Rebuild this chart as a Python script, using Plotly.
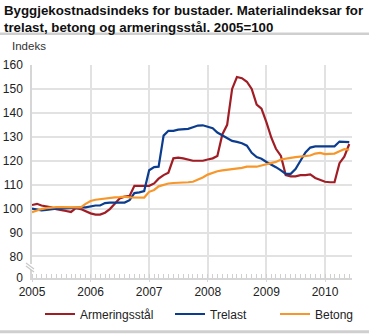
import plotly.graph_objects as go

# ---- data (monthly, Jan 2005 - Jun 2010) ----
months = [f"{y}-{m:02d}-01" for y in range(2005, 2011) for m in range(1, 13)][:66]

armeringsstal = [101.5, 102.0, 101.3, 101.0, 100.5, 99.8, 99.3, 99.0, 98.6, 100.2, 99.8, 98.8,
                 98.0, 97.5, 97.5, 98.3, 99.8, 102.0, 104.2, 105.0, 105.3, 109.5, 109.5, 109.2,
                 109.5, 110.5, 112.5, 114.0, 115.0, 121.0, 121.3, 121.0, 120.5, 120.0, 120.0, 120.0,
                 120.5, 121.0, 122.0, 131.0, 135.0, 150.0, 155.0, 154.5, 153.0, 150.0, 143.5, 141.8,
                 136.0, 129.5, 125.0, 122.0, 114.0, 113.5, 113.5, 114.0, 114.0, 114.3, 112.8, 112.0,
                 111.2, 111.0, 111.0, 119.0, 121.7, 127.0]

trelast = [100.0, 99.5, 99.3, 99.5, 99.8, 100.0, 100.0, 100.2, 100.2, 100.5, 100.5, 100.5,
           101.0, 101.3, 101.3, 102.3, 102.5, 102.5, 102.5, 102.5, 103.5, 106.5, 106.8, 107.3,
           116.0, 117.3, 117.5, 130.5, 132.5, 132.5, 133.0, 133.0, 133.3, 134.0, 134.7, 134.8,
           134.2, 133.6, 131.8, 130.5, 129.5, 128.3, 127.9, 127.3, 126.3, 123.3, 121.5, 120.8,
           119.5, 118.5, 117.3, 116.0, 114.5, 114.5, 116.5, 120.0, 123.5, 125.5, 126.0, 126.0,
           126.0, 126.0, 126.0, 128.0, 128.0, 127.8]

betong = [98.5, 99.2, 99.8, 100.2, 100.5, 100.6, 100.6, 100.5, 100.4, 100.3, 100.5, 102.0,
          103.2, 103.7, 104.0, 104.3, 104.5, 104.7, 104.8, 105.0, 104.7, 104.6, 104.6, 104.6,
          107.0, 107.8, 109.3, 110.0, 110.5, 110.7, 110.7, 110.7, 111.0, 111.2, 112.0, 113.0,
          114.2, 115.0, 115.6, 116.0, 116.2, 116.3, 116.5, 117.0, 117.5, 117.5, 117.5, 118.0,
          118.6, 119.0, 119.5, 120.5, 121.0, 121.2, 121.5, 121.7, 122.0, 122.2, 123.0, 123.3,
          122.8, 122.8, 123.0, 124.0, 124.8, 124.6]

series_names = ["Armeringsstål", "Trelast", "Betong"]
series_colors = ["#a11d25", "#0c3c8e", "#f7972b"]

y_tickvals = [71, 80, 90, 100, 110, 120, 130, 140, 150, 160]
y_ticktext = ["0", "80", "90", "100", "110", "120", "130", "140", "150", "160"]

FONT = "Liberation Sans, Arial, sans-serif"

W, H = 369, 334
L, R, T, B = 32, 17, 65, 55.5
pw, ph = W - L - R, H - T - B


def px(xp):
    return (xp - L) / pw


def py(yp):
    return (H - B - yp) / ph


legend_ids = ["legend", "legend2", "legend3"]
legend_x = [40, 170, 275]

fig = go.Figure()
for name, vals, col, lid in zip(series_names, [armeringsstal, trelast, betong], series_colors, legend_ids):
    fig.add_trace(go.Scatter(x=months, y=vals, mode="lines", name=name, legend=lid,
                             line=dict(color=col, width=2.2)))

shapes = [
    # separator under title
    dict(type="line", xref="paper", yref="paper", x0=px(0), x1=px(W), y0=py(33.8), y1=py(33.8),
         line=dict(color="#cfcfcf", width=2.5)),
    # bottom separator
    dict(type="line", xref="paper", yref="paper", x0=px(0), x1=px(W), y0=py(332.5), y1=py(332.5),
         line=dict(color="#cfcfcf", width=3)),
    # axis break
    dict(type="rect", xref="paper", yref="paper", x0=px(30), x1=px(34.5), y0=py(270.5), y1=py(264.5),
         fillcolor="white", line=dict(width=0)),
    dict(type="line", xref="paper", yref="paper", x0=px(26), x1=px(34), y0=py(263.5), y1=py(269.5),
         line=dict(color="#c8c8c8", width=1.2)),
    dict(type="line", xref="paper", yref="paper", x0=px(26), x1=px(34), y0=py(266.5), y1=py(272.5),
         line=dict(color="#c8c8c8", width=1.2)),
]

annotations = [
    dict(text="<b>Byggjekostnadsindeks for bustader. Materialindeksar for<br>trelast, betong og armeringsstål. 2005=100</b>",
         xref="paper", yref="paper", x=px(2), y=py(0.5), xanchor="left", yanchor="top",
         align="left", showarrow=False, font=dict(family=FONT, size=13.3, color="#111111")),
    dict(text="Indeks", xref="paper", yref="paper", x=px(10), y=py(46),
         xanchor="left", yanchor="middle", showarrow=False,
         font=dict(size=11.5, color="#333333")),
]

legend_common = dict(orientation="h", xref="container", yref="container",
                     xanchor="left", y=1 - 314 / H, yanchor="middle",
                     font=dict(size=12, color="#222222"), bgcolor="rgba(0,0,0,0)",
                     itemwidth=30, borderwidth=0)

fig.update_layout(
    template="none",
    width=W, height=H,
    margin=dict(l=L, r=R, t=T, b=B, pad=0, autoexpand=False),
    paper_bgcolor="white", plot_bgcolor="white",
    font=dict(family=FONT, size=12, color="#222222"),
    showlegend=True,
    legend=dict(x=legend_x[0] / W, **legend_common),
    legend2=dict(x=legend_x[1] / W, **legend_common),
    legend3=dict(x=legend_x[2] / W, **legend_common),
    shapes=shapes,
    annotations=annotations,
)

fig.update_xaxes(
    type="date", range=["2005-01-01", "2010-06-18"],
    tick0="2005-01-01", dtick="M12", tickformat="%Y",
    showgrid=True, gridcolor="#e2e2e2", gridwidth=1.6,
    showline=True, linecolor="#d6d6d6", linewidth=1.5,
    ticks="outside", ticklen=2, tickcolor="#d6d6d6",
    minor=dict(dtick="M1", ticks="inside", ticklen=4, tickcolor="#d0d0d0", showgrid=False),
    tickfont=dict(size=12, color="#222222"),
    zeroline=False, fixedrange=True, automargin=False,
)
fig.update_yaxes(
    range=[71, 160], tickvals=y_tickvals, ticktext=y_ticktext,
    showgrid=True, gridcolor="#e2e2e2", gridwidth=1.6,
    showline=True, linecolor="#d6d6d6", linewidth=1.5,
    ticks="", ticklabelstandoff=5,
    tickfont=dict(size=12, color="#222222"),
    zeroline=False, fixedrange=True, automargin=False,
)

fig.write_html("out.html", config={"displayModeBar": False})
